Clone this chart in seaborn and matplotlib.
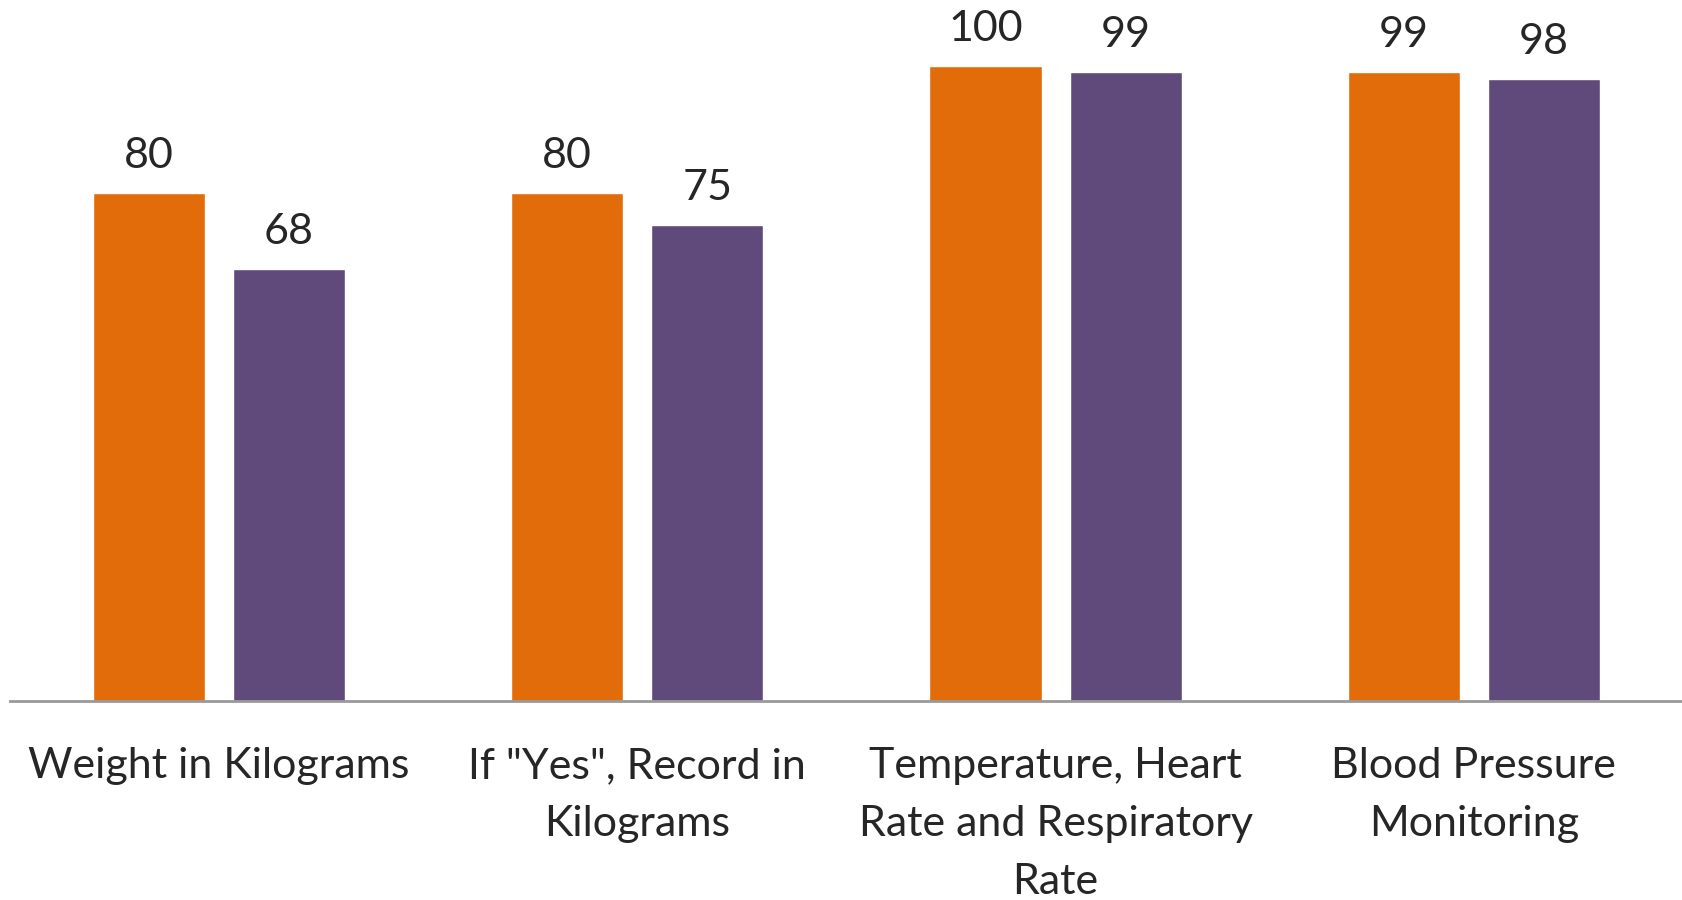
import pandas as pd
import numpy as np
from matplotlib import pyplot as plt
import seaborn as sns

# data
categories = ['Weight in Kilograms', 'If "Yes", Record in\nKilograms',
              'Temperature, Heart\nRate and Respiratory\nRate', 'Blood Pressure\nMonitoring']
series_a = [80, 80, 100, 99]
series_b = [68, 75, 99, 98]
series_names = ['Series 1', 'Series 2']

df = pd.DataFrame({
    'Category': categories * 2,
    'Value': series_a + series_b,
    'Series': [series_names[0]] * 4 + [series_names[1]] * 4,
})

sns.set_style('white')
plt.rcParams['font.family'] = ['Lato', 'DejaVu Sans']

fig = plt.figure(figsize=(16.83, 9), dpi=100)
ax = fig.add_axes([0.0058, 0.221, 0.9942, 0.779])
sns.barplot(data=df, x='Category', y='Value', hue='Series',
            palette=['#E36C0A', '#604A7B'], saturation=1,
            width=0.67, gap=0.2, legend=False, ax=ax)

for c in ax.containers:
    ax.bar_label(c, labels=[f'{v:.0f}' for v in c.datavalues], padding=13, fontsize=31)

ax.set_ylim(0, 110.4)
ax.set_xlim(-0.5, 3.5)
ax.set_xlabel('')
ax.set_ylabel('')
ax.set_yticks([])
ax.tick_params(axis='x', length=0, pad=33, labelsize=31)
for lbl in ax.get_xticklabels():
    lbl.set_linespacing(1.65)
for s in ['top', 'right', 'left']:
    ax.spines[s].set_visible(False)
ax.spines['bottom'].set_color('#999999')
ax.spines['bottom'].set_linewidth(2)

plt.savefig('out.png', dpi=100)
